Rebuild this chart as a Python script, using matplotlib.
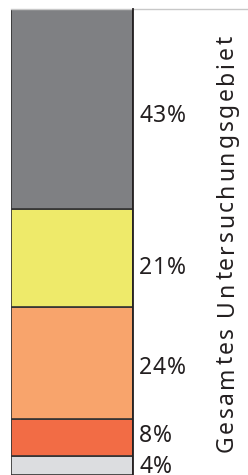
import numpy as np
from matplotlib import pyplot as plt
from matplotlib.lines import Line2D
from matplotlib.transforms import IdentityTransform
from matplotlib.font_manager import FontProperties, findfont, get_font

# values bottom -> top
shares  = [4, 8, 24, 21, 43]
colours = ['#dcdde0', '#f26c45', '#f8a46c', '#eeea6a', '#7f8083']
labels  = ['4%', '8%', '24%', '21%', '43%']
area    = 'Gesamtes Untersuchungsgebiet'

FAMILY = 'Noto Sans'
TXT    = '#231f20'
plt.rcParams['font.family'] = [FAMILY, 'DejaVu Sans']

W, H, DPI = 248, 475, 100
fig = plt.figure(figsize=(W / DPI, H / DPI), dpi=DPI)
ax = fig.add_axes([11 / W, 0, 122 / W, 466 / H])

bottoms = np.concatenate([[0], np.cumsum(shares)[:-1]])
for s, b, c in zip(shares, bottoms, colours):
  ax.bar([0], s, bottom=b, width=1, color=c, edgecolor='#333333', linewidth=1.2, align='edge')

ax.set_xlim(0, 1)
ax.set_ylim(0, 100)
ax.axis('off')

# the original font is set with wide letter spacing, so place glyph by glyph
def advances(s, size):
  font = get_font(findfont(FontProperties(family=FAMILY)))
  font.set_size(size, DPI)
  return [font.load_char(ord(c)).linearHoriAdvance / 65536 for c in s]

def spaced(x, y, s, size, track, vertical=False):
  pos = 0
  for c, a in zip(s, advances(s, size)):
    if vertical:
      fig.text(x, y + pos, c, transform=IdentityTransform(), rotation=90, rotation_mode='anchor',
               ha='left', va='baseline', fontsize=size, color=TXT)
    else:
      fig.text(x + pos, y, c, transform=IdentityTransform(), ha='left', va='baseline',
               fontsize=size, color=TXT)
    pos += a + track

# labels: baseline a bit under the segment middle
offsets = [-1.6, -0.9, -2.3, -3.4, -2.75]
for s, b, lab, o in zip(shares, bottoms, labels, offsets):
  _, yb = ax.transData.transform((1, b + s / 2 + o))
  spaced(139, yb, lab, 16.5, 0.8)

# frame lines
fig.add_artist(Line2D([11 / W, 1], [1 - 8.5 / H] * 2, color='#c8c8c8', lw=1))
fig.add_artist(Line2D([133 / W] * 2, [0, 1 - 8.5 / H], color=TXT, lw=1.3))

spaced(233, H - 452, area, 16.5, 2.6, vertical=True)

fig.savefig('out.png', dpi=DPI)
